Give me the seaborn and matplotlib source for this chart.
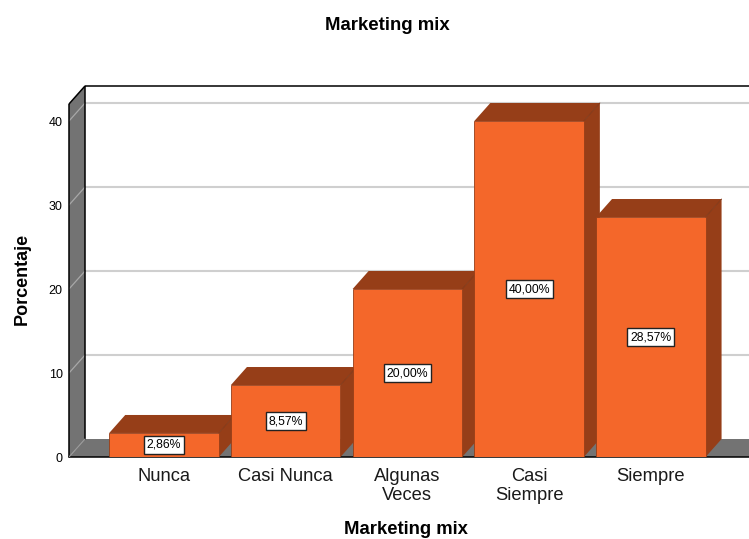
import matplotlib
matplotlib.use('Agg')
import matplotlib.pyplot as plt
import pandas as pd
import seaborn as sns
from matplotlib.patches import Polygon

categories = ['Nunca', 'Casi Nunca', 'Algunas\nVeces', 'Casi\nSiempre', 'Siempre']
percentages = [2.86, 8.57, 20.00, 40.00, 28.57]
percent_labels = ['2,86%', '8,57%', '20,00%', '40,00%', '28,57%']
y_ticks = [0, 10, 20, 30, 40]

FRONT = '#F4672A'
DARK = '#963E18'
WALL = '#737373'
GRID = '#CFCFCF'

sns.set_style('white')
plt.rcParams['font.family'] = ['Liberation Sans', 'DejaVu Sans']

W, H = 749, 539
fig = plt.figure(figsize=(W / 100, H / 100), dpi=100)
# front plane of the 3d box, in pixels: x 69-749, y 86-457
ax = fig.add_axes([69 / W, (H - 457) / H, 680 / W, 371 / H])

df = pd.DataFrame({'cat': categories, 'pct': percentages})
sns.barplot(data=df, x='cat', y='pct', color=FRONT, saturation=1, width=0.9,
            edgecolor=DARK, linewidth=0.6, ax=ax, zorder=5)

px_x = 121.7  # pixels per category
px_y = 8.4    # pixels per percent
x_min = -95 / px_x
x_max = x_min + 680 / px_x
y_max = 371 / px_y
dx = 16 / px_x
dy = 18 / px_y
ax.set_xlim(x_min, x_max)
ax.set_ylim(0, y_max)


def add_poly(points, color, zorder, edge='none', lw=0.0):
    ax.add_patch(Polygon(points, closed=True, facecolor=color, edgecolor=edge,
                         linewidth=lw, zorder=zorder, clip_on=False))


# back wall grid, left wall and floor
for t in y_ticks[1:]:
    ax.plot([x_min + dx, x_max], [t + dy, t + dy], color=GRID, lw=1.5, zorder=1)
add_poly([(x_min, 0), (x_min, y_max - dy), (x_min + dx, y_max), (x_min + dx, dy)], WALL, 2)
add_poly([(x_min, 0), (x_min + dx, dy), (x_max, dy), (x_max, 0)], WALL, 2)
for t in y_ticks[1:]:
    ax.plot([x_min, x_min + dx], [t, t + dy], color='#A8A8A8', lw=0.9, zorder=3)

# frame lines
ax.plot([x_min + dx, x_max], [y_max, y_max], color='black', lw=1.1, zorder=3, clip_on=False)
ax.plot([x_min + dx, x_min + dx], [dy, y_max], color='black', lw=1.1, zorder=3)
ax.plot([x_min, x_min], [0, y_max - dy], color='black', lw=1.1, zorder=3, clip_on=False)
ax.plot([x_min, x_min + dx], [y_max - dy, y_max], color='black', lw=1.1, zorder=3)
ax.plot([x_min, x_max], [0, 0], color='black', lw=1.1, zorder=3, clip_on=False)
ax.plot([x_min, x_min + dx], [0, dy], color='#9A9A9A', lw=0.8, zorder=3)

# depth faces of the bars, later bars sit in front of earlier ones
for i, bar in enumerate(ax.patches[:len(categories)]):
    z = 5 + i
    bar.set_zorder(z + 0.5)
    x0 = bar.get_x()
    x1 = x0 + bar.get_width()
    top = bar.get_height()
    add_poly([(x0, top), (x0 + dx, top + dy), (x1 + dx, top + dy), (x1, top)], DARK, z)
    add_poly([(x1, 0), (x1, top), (x1 + dx, top + dy), (x1 + dx, dy)], DARK, z)
    ax.plot([x1, x1 + dx], [top, top + dy], color='#7E3413', lw=0.6, zorder=z + 0.2)
    ax.text(i, top / 2, percent_labels[i], ha='center', va='center', fontsize=8.8,
            color='black', zorder=20,
            bbox=dict(boxstyle='square,pad=0.22', facecolor='white',
                      edgecolor='#222222', linewidth=1.0))

ax.set_xticks(range(len(categories)))
ax.set_xticklabels(categories, fontsize=13.2, color='#1A1A1A', linespacing=1.12)
ax.set_yticks(y_ticks)
ax.tick_params(axis='y', length=0, pad=4.5, labelsize=9, labelcolor='black')
ax.tick_params(axis='x', length=0, pad=8)
sns.despine(ax=ax, left=True, bottom=True, top=True, right=True)

ax.set_xlabel('Marketing mix', fontsize=13.3, fontweight='bold', color='black')
ax.xaxis.set_label_coords(406 / W, (H - 529) / H, transform=fig.transFigure)
ax.xaxis.label.set_va('center')
ax.set_ylabel('Porcentaje', fontsize=13, fontweight='bold', color='black')
ax.yaxis.set_label_coords(22 / W, (H - 279) / H, transform=fig.transFigure)
ax.yaxis.label.set_va('center')
fig.suptitle('Marketing mix', x=387 / W, y=(H - 25) / H, va='center',
             fontsize=13.4, fontweight='bold', color='black')

fig.savefig('out.png', dpi=100)
